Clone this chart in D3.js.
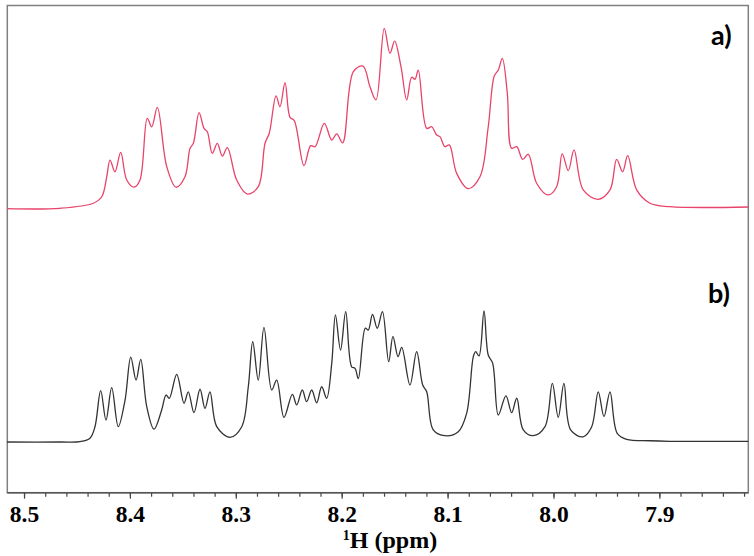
<!DOCTYPE html>
<html>
<head>
<meta charset="utf-8">
<script src="https://cdn.jsdelivr.net/npm/d3@7"></script>
<style>
  body { margin: 0; background: #fff; }
  svg { display: block; }
</style>
</head>
<body>
<svg id="chart" width="754" height="556"></svg>
<script>
// spectrum a) : [ppm, intensity] (100 = tallest peak)
const traceA = [
  [8.516, 0.2], [8.466, 0.4], [8.4346, 3.2], [8.4266, 6.8], [8.4219, 17.9],
  [8.4188, 27.2], [8.4141, 20.7], [8.4087, 31.5], [8.403, 16.1], [8.3961, 12.1],
  [8.3905, 16.1], [8.3836, 50.4], [8.3794, 45.7], [8.3741, 56.5], [8.3652, 23.5],
  [8.3565, 12.1], [8.348, 17.9], [8.3432, 33.7], [8.3401, 36.5], [8.3347, 53.5],
  [8.33, 44.8], [8.3269, 42.9], [8.3222, 30.9], [8.3175, 36.5], [8.3127, 29.4],
  [8.308, 34.1], [8.2992, 16.1], [8.2891, 8.3], [8.2788, 12.4], [8.2724, 36.5],
  [8.2684, 42.1], [8.262, 62.9], [8.2583, 56.8], [8.2535, 70.2], [8.2488, 50.9],
  [8.2448, 49.1], [8.2356, 24.1], [8.2293, 35.2], [8.2252, 34.6], [8.2164, 47.6],
  [8.2094, 38.3], [8.2047, 41.7], [8.1991, 36.8], [8.189, 76.3], [8.1799, 79.4],
  [8.1733, 67.9], [8.1676, 60.6], [8.1598, 100.4], [8.1544, 86.5], [8.15, 93.3],
  [8.144, 79.1], [8.1386, 60.6], [8.1339, 73.2], [8.1308, 72.1], [8.1277, 77.2],
  [8.1197, 44.8], [8.115, 45.7], [8.1103, 41.1], [8.1072, 40.2], [8.1025, 34.6],
  [8.0984, 35.6], [8.0914, 19.8], [8.0805, 11.3], [8.0694, 17.9], [8.0616, 45.7],
  [8.0559, 73.9], [8.0521, 77.2], [8.0483, 83.7], [8.0436, 64.3], [8.0395, 33.7],
  [8.0347, 34.6], [8.0291, 27.6], [8.0238, 30.4], [8.0159, 14.3], [8.0049, 7.8],
  [7.997, 12.4], [7.9917, 30.6], [7.986, 21.3], [7.9806, 32.8], [7.9719, 10.6],
  [7.9577, 5.4], [7.9466, 10.6], [7.9403, 27.6], [7.9347, 20.7], [7.9299, 29.6],
  [7.9214, 10.6], [7.9089, 3.2], [7.89, 1.3], [7.816, 1.1]
]

// spectrum b) : [ppm, intensity]
const traceB = [
  [8.516, 0], [8.466, 0], [8.4471, 0.2], [8.4377, 2.1], [8.433, 8.5],
  [8.4276, 28.5], [8.4226, 12.2], [8.4172, 30.2], [8.411, 8.5], [8.4046, 23.3],
  [8.3992, 47.1], [8.3942, 34.4], [8.3898, 45.9], [8.3841, 19.6], [8.3772, 7.1],
  [8.37, 17.8], [8.3659, 26.1], [8.3628, 24.3], [8.3558, 37.6], [8.3489, 21.5],
  [8.3449, 27.9], [8.3395, 16.3], [8.3338, 29.3], [8.3291, 18.7], [8.3244, 27.9],
  [8.318, 8.5], [8.3055, 2.6], [8.2944, 8.5], [8.2882, 30.7], [8.284, 55.7],
  [8.2788, 34.4], [8.2734, 63.7], [8.2661, 28.9], [8.2614, 34.4], [8.2545, 13.7],
  [8.2466, 26.5], [8.2425, 20.6], [8.2372, 28.9], [8.2331, 22.4], [8.2283, 28.9],
  [8.2236, 21.8], [8.2189, 30.7], [8.2142, 24.3], [8.2094, 43.7], [8.2059, 70.6],
  [8.2011, 51.1], [8.1962, 72.4], [8.1906, 41.8], [8.1874, 40.9], [8.1843, 35.2],
  [8.1777, 63.3], [8.1749, 62.2], [8.1709, 70.9], [8.1664, 63.2], [8.1615, 72.4],
  [8.1556, 44.6], [8.1516, 58.7], [8.1468, 47.4], [8.1433, 52.6], [8.1355, 31.7],
  [8.1292, 50.2], [8.1235, 31.7], [8.1197, 27.9], [8.1135, 6.7], [8.1025, 3.5],
  [8.0899, 5.7], [8.082, 15.9], [8.0757, 47.4], [8.0735, 50.2], [8.0703, 47.8],
  [8.0656, 72.9], [8.0616, 48.3], [8.0574, 43.7], [8.0521, 15], [8.0449, 25.6],
  [8.0395, 16.3], [8.0347, 24.3], [8.0285, 6.7], [8.0191, 3.5], [8.008, 8.5],
  [8.0011, 32.6], [7.9955, 13.7], [7.9901, 32.6], [7.9838, 6.7], [7.9719, 2.9],
  [7.9639, 8.5], [7.9577, 27.9], [7.9523, 14.1], [7.9466, 27.9], [7.9398, 4.8],
  [7.9309, 1.5], [7.9089, 0.7], [7.89, 0.4], [7.816, 0.3]
]

const majorTicks = [8.5, 8.4, 8.3, 8.2, 8.1, 8.0, 7.9]
const minorTicks = d3.range(8.5, 7.81, -0.02).map(d => +d.toFixed(2))
const panelLabels = ["a)", "b)"]

const svg = d3.select("#chart")

const frame = {left: 7.3, right: 748.3, top: 5.5, bottom: 492.7}

const x = d3.scaleLinear()
  .domain([8.5158, 7.816])
  .range([frame.left, frame.right])

const yA = d3.scaleLinear().domain([0, 100]).range([209, 29])
const yB = d3.scaleLinear().domain([0, 100]).range([442, 262])

// frame
svg.append("rect")
  .attr("x", frame.left)
  .attr("y", frame.top)
  .attr("width", frame.right - frame.left)
  .attr("height", frame.bottom - frame.top)
  .attr("fill", "none")
  .attr("stroke", "#808080")
  .attr("stroke-width", 1.5)

// x axis, minor ticks first then labelled major ticks
svg.append("g")
  .attr("transform", `translate(0,${frame.bottom})`)
  .call(d3.axisBottom(x).tickValues(minorTicks).tickSize(4).tickFormat(""))
  .call(g => g.select(".domain").remove())
  .selectAll("line").attr("stroke", "#444").attr("stroke-width", 1.2)

const xAxis = svg.append("g")
  .attr("transform", `translate(0,${frame.bottom})`)
  .call(d3.axisBottom(x).tickValues(majorTicks).tickSize(6).tickPadding(7)
    .tickFormat(d3.format(".1f")))

xAxis.select(".domain").attr("stroke", "#555").attr("stroke-width", 1.5)
  .attr("d", `M${frame.left},0H${frame.right}`)
xAxis.selectAll(".tick line").attr("stroke", "#444").attr("stroke-width", 1.2)
xAxis.selectAll(".tick text")
  .attr("fill", "#000")
  .style("font-family", "'Liberation Serif', 'Times New Roman', serif")
  .style("font-weight", "bold")
  .style("font-size", "23.5px")

// axis title
const title = svg.append("text")
  .attr("x", 390)
  .attr("y", 548)
  .attr("text-anchor", "middle")
  .style("font-family", "'Liberation Serif', 'Times New Roman', serif")
  .style("font-weight", "bold")
  .style("font-size", "24px")
title.append("tspan").attr("font-size", "14px").attr("dy", -8).text("1")
title.append("tspan").attr("dy", 8).text("H (ppm)")

const line = d3.line().curve(d3.curveCatmullRom.alpha(0.5))

svg.append("path")
  .attr("d", line.x(d => x(d[0])).y(d => yA(d[1]))(traceA))
  .attr("fill", "none")
  .attr("stroke", "#e8436a")
  .attr("stroke-width", 1.3)

svg.append("path")
  .attr("d", line.x(d => x(d[0])).y(d => yB(d[1]))(traceB))
  .attr("fill", "none")
  .attr("stroke", "#333")
  .attr("stroke-width", 1.3)

// panel labels
svg.selectAll("text.panel")
  .data(panelLabels)
  .join("text")
  .attr("class", "panel")
  .attr("x", (d, i) => i == 0 ? 731.7 : 730)
  .attr("y", (d, i) => i == 0 ? 45 : 303)
  .attr("text-anchor", "end")
  .style("font-family", "Lato, 'Open Sans', sans-serif")
  .style("font-weight", "bold")
  .style("font-size", "27px")
  .text(d => d)
</script>
</body>
</html>
